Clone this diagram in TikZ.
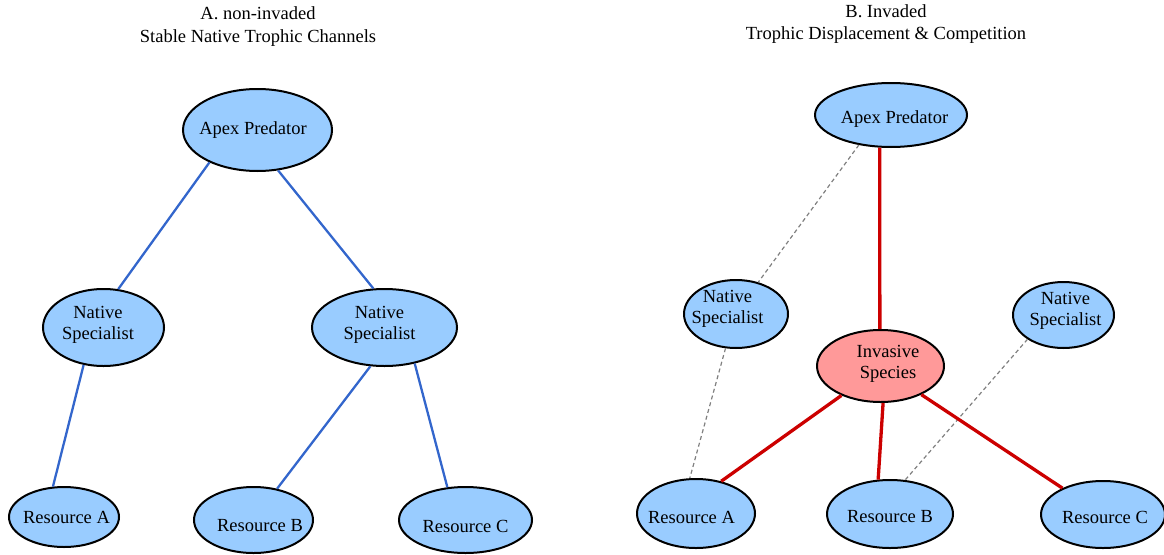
\documentclass[tikz,border=0pt]{standalone}
\usepackage{fontspec}
\setmainfont{Liberation Serif}
\usetikzlibrary{shapes.geometric}
\definecolor{nativefill}{HTML}{99CCFF}
\definecolor{invasivefill}{HTML}{FF9999}
\definecolor{nativelink}{HTML}{3366CC}
\definecolor{invasivelink}{HTML}{CC0000}
\tikzset{
  species/.style={ellipse, draw=black, line width=2pt, fill=nativefill, inner sep=0pt},
  invader/.style={species, fill=invasivefill},
  tag/.style={align=center, inner sep=0pt, font=\fontsize{18.5}{21}\selectfont},
  channel/.style={draw=nativelink, line width=2.3pt},
  takeover/.style={draw=invasivelink, line width=3.3pt},
  lost/.style={draw=gray, line width=1.2pt, dash pattern=on 4pt off 3pt},
  paneltitle/.style={align=center, font=\fontsize{18.5}{22.5}\selectfont}
}
\begin{document}
\begin{tikzpicture}[x=1pt,y=-1pt]
    \useasboundingbox (0,0) rectangle (1164,554);
    % A. non-invaded
    \node[paneltitle] (titleA) at (258,26.5) {A. non-invaded\\Stable Native Trophic Channels};
    \node[species, minimum width=149, minimum height=82,
      label={[tag, name=apexA-t, shift={(-4.5,0)}]center:Apex Predator}] (apexA) at (257.5,130) {};
    \node[species, minimum width=121, minimum height=77,
      label={[tag, name=natA1-t, shift={(-5.5,-3)}]center:{Native\\Specialist}}] (natA1) at (103.5,327.5) {};
    \node[species, minimum width=145, minimum height=77,
      label={[tag, name=natA2-t, shift={(-5,-3)}]center:{Native\\Specialist}}] (natA2) at (384.5,327.5) {};
    \node[species, minimum width=110, minimum height=60,
      label={[tag, name=resA1-t, shift={(2.5,0)}]center:Resource A}] (resA1) at (64,517) {};
    \node[species, minimum width=119, minimum height=66,
      label={[tag, name=resA2-t, shift={(6.5,6)}]center:Resource B}] (resA2) at (253.5,520) {};
    \node[species, minimum width=133, minimum height=66,
      label={[tag, name=resA3-t, shift={(0,6)}]center:Resource C}] (resA3) at (465.5,520) {};
    \draw[channel] (apexA.214) -- (natA1.69);
    \draw[channel] (apexA.297) -- (natA2.106);
    \draw[channel] (natA1.242) -- (resA1.110);
    \draw[channel] (natA2.250) -- (resA2.53);
    \draw[channel] (natA2.310) -- (resA3.119);
    % B. invaded
    \node[paneltitle] (titleB) at (886,24) {B. Invaded\\Trophic Displacement \& Competition};
    \node[species, minimum width=152, minimum height=64,
      label={[tag, name=apexB-t, shift={(3.5,4)}]center:Apex Predator}] (apexB) at (891,115) {};
    \node[species, minimum width=104, minimum height=68,
      label={[tag, name=natB1-t, shift={(-8.5,-5)}]center:{Native\\Specialist}}] (natB1) at (736,314) {};
    \node[invader, minimum width=127, minimum height=72,
      label={[tag, name=inv-t, shift={(7.5,-2)}]center:{Invasive\\Species}}] (inv) at (880.5,366) {};
    \node[species, minimum width=101, minimum height=66,
      label={[tag, name=natB2-t, shift={(2,-4)}]center:{Native\\Specialist}}] (natB2) at (1063.5,315) {};
    \node[species, minimum width=118, minimum height=69,
      label={[tag, name=resB1-t, shift={(-4.5,3.5)}]center:Resource A}] (resB1) at (696,513.5) {};
    \node[species, minimum width=126, minimum height=68,
      label={[tag, name=resB2-t, shift={(0,3)}]center:Resource B}] (resB2) at (890,514) {};
    \node[species, minimum width=124, minimum height=67,
      label={[tag, name=resB3-t, shift={(2,3)}]center:Resource C}] (resB3) at (1103,514.5) {};
    % displaced links
    \draw[lost] (apexB.223) -- (natB1.55);
    \draw[lost] (natB1.253) -- (resB1.100);
    \draw[lost] (natB2.214) -- (resB2.66);
    % invader links
    \draw[takeover] (apexB.251) -- (inv.91);
    \draw[takeover] (inv.217) -- (resB1.52);
    \draw[takeover] (inv.274) -- (resB2.109);
    \draw[takeover] (inv.325) -- (resB3.147);
\end{tikzpicture}
\end{document}
